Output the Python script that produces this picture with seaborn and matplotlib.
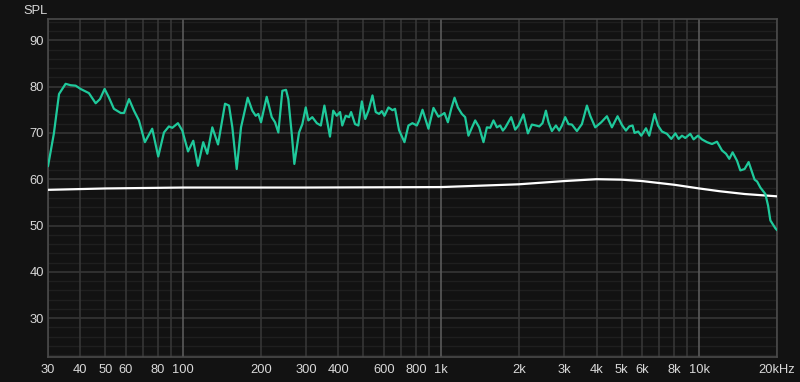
import numpy as np
import pandas as pd
import matplotlib
matplotlib.use('Agg')
import matplotlib.pyplot as plt
import seaborn as sns
from matplotlib.ticker import FixedLocator, NullFormatter

# --- Data (frequency in Hz, level in dB SPL) ---
measured_freq = [
    30, 31.6, 33.1, 35.1, 36.7, 38.4, 40.1, 43.2, 45.9, 47.7, 49.7, 51.6, 54.0, 57.4, 59.1,
    61.8, 64.6, 67.5, 71.2, 76.0, 80.2, 84.4, 88.2, 90.9, 95.6, 99.4, 104.6, 109.6, 114.3,
    119.8, 124.2, 129.9, 136.7, 145.5, 150.8, 155.3, 161.5, 167.8, 171.3, 178.1, 185.6,
    191.3, 195.8, 200.6, 211, 220.7, 227.3, 234.1, 242.6, 250.7, 255.9, 263.8, 270, 281.6,
    290, 298.9, 306, 317, 330, 342, 353, 371, 382, 394, 406, 414, 427, 440, 448, 464, 478,
    493, 508, 523, 542, 558, 575, 589, 603, 625, 648, 663, 687, 721, 747, 774, 805, 822,
    847, 873, 893, 934, 976, 1012, 1030, 1062, 1094, 1127, 1161, 1203, 1239, 1276, 1315,
    1355, 1404, 1459, 1504, 1549, 1595, 1644, 1693, 1734, 1770, 1868, 1936, 1994, 2084,
    2168, 2247, 2328, 2400, 2470, 2546, 2606, 2686, 2784, 2866, 2937, 3024, 3114, 3210,
    3357, 3510, 3670, 3780, 3953, 4171, 4387, 4587, 4824, 5016, 5198, 5354, 5515, 5613,
    5800, 5960, 6215, 6401, 6710, 6917, 7169, 7496, 7790, 8075, 8316, 8570, 8825, 9229,
    9505, 9880, 10240, 10710, 11200, 11710, 12250, 12690, 13070, 13460, 14000, 14420,
    14980, 15530, 16010, 16380, 16750, 17240, 18030, 18470, 18850, 19710, 20000,
]
measured_spl = [
    62.8, 69.8, 78.4, 80.6, 80.3, 80.2, 79.5, 78.6, 76.4, 77.3, 79.5, 77.7, 75.2, 74.3, 74.3,
    77.3, 74.8, 72.7, 68.0, 70.9, 64.9, 70.1, 71.4, 71.1, 72.1, 70.5, 66.0, 68.3, 62.9,
    68.0, 65.5, 71.2, 67.5, 76.3, 75.9, 71.2, 62.2, 71.2, 73.4, 77.6, 74.8,
    73.7, 74.1, 72.3, 77.8, 73.4, 72.3, 70.1, 79.1, 79.3, 77.3, 69.8, 63.3, 70.1,
    71.9, 75.5, 72.7, 73.4, 72.1, 71.6, 75.9, 69.2, 74.8, 73.7, 74.5, 71.6, 73.7, 73.4, 74.5, 71.9, 71.6,
    76.8, 73.0, 74.8, 78.1, 74.5, 74.1, 74.7, 73.7, 75.5, 74.9, 75.2, 70.6, 68.0, 71.6, 72.1, 71.6, 72.7,
    75.0, 72.7, 70.9, 75.4, 73.5, 74.0, 74.3, 72.3, 75.2, 77.6, 75.5, 74.1, 73.4, 69.4, 71.1,
    72.7, 71.2, 68.0, 71.2, 71.1, 72.7, 71.2, 71.6, 70.5, 71.1, 73.4, 70.7, 71.6, 74.0,
    69.9, 71.8, 71.6, 71.4, 72.1, 74.8, 72.3, 70.4, 71.6, 70.5, 71.6, 73.4, 71.9, 71.8,
    70.4, 71.9, 75.9, 73.7, 71.2, 72.3, 73.6, 71.2, 73.6, 71.7, 70.5, 71.4, 71.6, 70.0,
    70.3, 69.4, 71.0, 69.4, 74.1, 71.6, 70.3, 69.8, 68.7, 69.9, 68.7, 69.4, 68.9, 69.8,
    68.6, 69.4, 68.6, 68.0, 67.6, 68.1, 66.2, 65.5, 64.4, 65.8, 64.0, 61.9,
    62.2, 63.7, 61.5, 59.9, 59.5, 58.2, 56.8, 54.3, 51.1, 49.4, 49.0,
]

target_freq = [30, 50, 100, 300, 1000, 2000, 3000, 4000, 5000, 6000, 8000, 10000, 12000, 15000, 20000]
target_spl = [57.7, 58.0, 58.2, 58.2, 58.3, 58.9, 59.6, 60.0, 59.9, 59.6, 58.8, 58.0, 57.4, 56.8, 56.3]

x_ticks = [30, 40, 50, 60, 80, 100, 200, 300, 400, 600, 800, 1000, 2000, 3000, 4000, 5000, 6000, 8000, 10000, 20000]
x_labels = ['30', '40', '50', '60', '80', '100', '200', '300', '400', '600', '800', '1k',
            '2k', '3k', '4k', '5k', '6k', '8k', '10k', '20kHz']
x_minor = [70, 90, 500, 700, 900, 7000, 9000]
y_ticks = [30, 40, 50, 60, 70, 80, 90]

BG = '#121212'
GREEN = '#1fc99b'

sns.set_style('dark')
plt.rcParams['font.family'] = ['Liberation Sans', 'DejaVu Sans']

fig = plt.figure(figsize=(8, 3.82), dpi=100, facecolor=BG)
ax = fig.add_axes([48 / 800, 25 / 382, 729 / 800, 338 / 382])
ax.set_facecolor(BG)

ax.set_xscale('log')
ax.set_xlim(30, 20000)
ax.set_ylim(21.6, 94.6)

# grid: faint 2 dB lines, brighter 10 dB lines, vertical lines at every frequency step
for v in np.arange(22, 95, 2):
    if v % 10 != 0:
        ax.axhline(v, color='#1f1f1f', lw=1.0, zorder=0)
for v in y_ticks:
    ax.axhline(v, color='#363636', lw=1.2, zorder=0)
for f in x_ticks + x_minor:
    bright = f in (100, 1000, 10000)
    ax.axvline(f, color='#5a5a5a' if bright else '#363636', lw=1.2, zorder=0)

target_df = pd.DataFrame({'freq': target_freq, 'spl': target_spl})
measured_df = pd.DataFrame({'freq': measured_freq, 'spl': measured_spl})
sns.lineplot(data=target_df, x='freq', y='spl', ax=ax, color='white', lw=1.6,
             estimator=None, sort=False, zorder=3)
sns.lineplot(data=measured_df, x='freq', y='spl', ax=ax, color=GREEN, lw=1.6,
             estimator=None, sort=False, zorder=4)

ax.xaxis.set_major_locator(FixedLocator(x_ticks))
ax.set_xticklabels(x_labels)
ax.xaxis.set_minor_formatter(NullFormatter())
ax.xaxis.set_minor_locator(FixedLocator([]))
ax.set_yticks(y_ticks)
ax.tick_params(axis='both', length=0, labelsize=9.3, colors='#d8d8d8')
ax.tick_params(axis='x', pad=5)
ax.tick_params(axis='y', pad=3)
ax.set_xlabel('')
ax.set_ylabel('')
ax.grid(False)

for s in ax.spines.values():
    s.set_visible(True)
    s.set_color('#4a4a4a')
    s.set_linewidth(1.2)

fig.text(23 / 800, 1 - 11 / 382, 'SPL', color='#d8d8d8', fontsize=9.3, va='center', ha='left')

fig.savefig('out.png', dpi=100, facecolor=BG)
